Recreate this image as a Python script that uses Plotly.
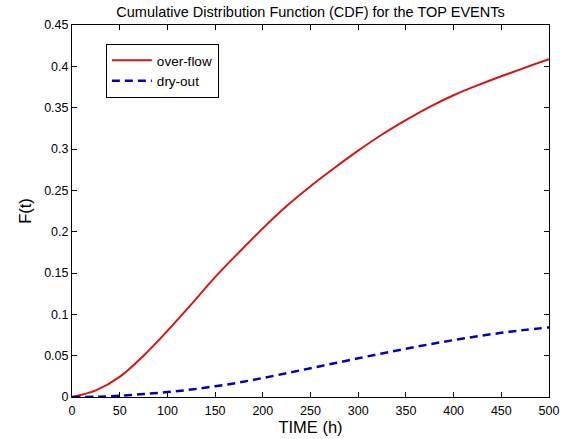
import plotly.graph_objects as go

time_h = [0, 25, 50, 75, 100, 125, 150, 175, 200, 225, 250, 275, 300, 325, 350, 375, 400, 425, 450, 475, 500]
overflow = [0, 0.008, 0.0243, 0.050, 0.080, 0.112, 0.145, 0.175, 0.204, 0.231, 0.255, 0.277, 0.298, 0.3175,
            0.335, 0.351, 0.365, 0.377, 0.388, 0.3985, 0.4086]
dryout = [0, 0.0003, 0.0015, 0.0035, 0.006, 0.009, 0.013, 0.0175, 0.023, 0.0288, 0.0348, 0.0408, 0.0468,
          0.0527, 0.0584, 0.0638, 0.0688, 0.0734, 0.0776, 0.0812, 0.0842]

FONT = "Liberation Sans, Arial, sans-serif"

fig = go.Figure()
fig.add_trace(go.Scatter(x=time_h, y=overflow, mode="lines", name="over-flow",
                         line=dict(color="#d81515", width=2, shape="spline")))
fig.add_trace(go.Scatter(x=time_h, y=dryout, mode="lines", name="dry-out",
                         line=dict(color="#0000bb", width=2.5, dash="8px,5px", shape="spline")))

axis_common = dict(showline=True, linecolor="black", linewidth=1, mirror="ticks",
                   ticks="inside", ticklen=5, tickcolor="black", showgrid=False, zeroline=False,
                   automargin=False,
                   tickfont=dict(family=FONT, size=12.5, color="black"))

fig.update_layout(
    width=572, height=439,
    margin=dict(l=72, r=23, t=25, b=42),
    paper_bgcolor="white", plot_bgcolor="white",
    title=dict(text="Cumulative Distribution Function (CDF) for the TOP EVENTs",
               font=dict(family=FONT, size=14.5, color="black"),
               x=0.5, xref="paper", xanchor="center", y=1 - 12 / 439, yanchor="middle"),
    xaxis=dict(range=[0, 500], dtick=50, tick0=0, ticklabelstandoff=2,
               title=dict(text="TIME (h)", font=dict(family=FONT, size=16.5, color="black"), standoff=2),
               **axis_common),
    yaxis=dict(range=[0, 0.45], dtick=0.05, tick0=0,
               title=dict(text="F(t)", font=dict(family=FONT, size=16.5, color="black"), standoff=8),
               **axis_common),
    legend=dict(x=0.071, y=0.949, xanchor="left", yanchor="top",
                bordercolor="black", borderwidth=1, bgcolor="white",
                font=dict(family=FONT, size=13.5, color="black"),
                tracegroupgap=0, itemwidth=40),
    showlegend=True,
)

fig.write_html("out.html")
